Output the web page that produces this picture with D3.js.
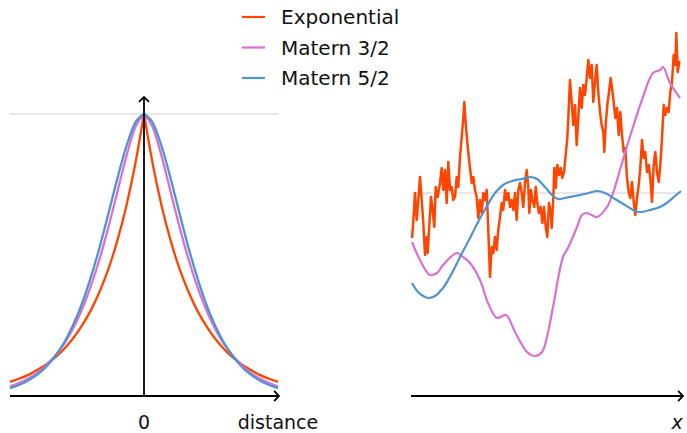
<!DOCTYPE html>
<html>
<head>
<meta charset="utf-8">
<script src="https://cdn.jsdelivr.net/npm/d3@7"></script>
<style>
body { margin: 0; background: #fff; }
text { font-family: "DejaVu Sans", sans-serif; fill: #111; }
</style>
</head>
<body>
<div id="chart"></div>
<script>
// kernels (distance in lengthscales)
var dist = [-3,-2.8,-2.6,-2.4,-2.2,-2,-1.8,-1.6,-1.4,-1.2,-1,-0.8,-0.6,-0.4,-0.2,0,
            0.2,0.4,0.6,0.8,1,1.2,1.4,1.6,1.8,2,2.2,2.4,2.6,2.8,3];
var kExp = [0.050,0.061,0.074,0.091,0.111,0.135,0.165,0.202,0.247,0.301,0.368,0.449,0.549,0.670,0.819,1,
            0.819,0.670,0.549,0.449,0.368,0.301,0.247,0.202,0.165,0.135,0.111,0.091,0.074,0.061,0.050];
var kM32 = [0.034,0.046,0.061,0.081,0.107,0.140,0.182,0.236,0.303,0.385,0.483,0.597,0.721,0.847,0.952,1,
            0.952,0.847,0.721,0.597,0.483,0.385,0.303,0.236,0.182,0.140,0.107,0.081,0.061,0.046,0.034];
var kM52 = [0.028,0.039,0.054,0.075,0.102,0.139,0.186,0.247,0.323,0.416,0.524,0.645,0.769,0.883,0.968,1,
            0.968,0.883,0.769,0.645,0.524,0.416,0.323,0.247,0.186,0.139,0.102,0.075,0.054,0.039,0.028];

// sample paths
var sExpX = [0,1.3,3,4.7,6.3,8,9.7,11.3,13,14.7,15.7,17,19,20.3,22.3,23.7,25.7,28,29.7,31.3,33,34.7,36.3,38,39.7,41.3,43,44.7,46.3,48,49.7,51.3,52.3,53.7,55.7,58,59.7,61.3,63,64.7,66.3,
  68,69.7,71.3,73,74.7,76.3,78,79.7,81.3,83,84.7,86.3,88,89.7,91.3,93,94.7,96.3,98,99.7,101.3,103,104.7,106.3,108,109.7,111.3,113,114.7,116.3,117.3,119,120.3,122.3,123.7,125.3,127,128.7,130.3,132,133.7,135.3,
  137,138.7,139.7,141.3,142.3,143.7,145.3,147,148.7,150.3,152,153.7,155.3,156.3,158,159.7,161.3,163,164.7,166.3,168,169.7,171.3,173,174.7,176.3,178,179.7,181.3,183,184.7,186.3,188,189.7,191.3,192.3,193.7,195.3,197,198.7,
  200,201.7,203.3,205,206.7,208.3,210,211.7,213.3,215,216.7,218.3,220,221.7,223.3,225,226.7,228.3,230,231.7,233.3,235,236.7,238.3,240,241.7,243.3,245,246.7,248.3,250,251.7,253.3,255,256.7,258.3,260,261.7,263.3,264.3,265.7,267.3,268.3];
var sExpY = [-0.90,-0.57,0.00,-0.54,-0.14,0.32,-0.14,-0.60,-1.24,-0.88,-1.20,-0.74,-0.08,-0.28,-0.68,0.12,-0.08,0.20,0.50,0.06,0.46,-0.20,0.62,0.06,0.12,-0.14,-0.08,0.32,0.12,0.72,1.12,1.50,1.82,1.40,0.92,0.50,0.20,0.32,0.06,-0.08,-0.50,
  -0.14,-0.40,0.00,-0.14,0.06,-0.74,-1.68,-1.08,-1.20,-0.88,-1.14,-0.74,-0.48,-0.20,-0.34,0.06,-0.14,0.00,-0.28,-0.14,-0.34,0.00,-0.54,0.06,0.20,0.00,-0.28,0.20,0.46,0.12,-0.40,0.06,-0.14,-0.28,0.12,-0.20,-0.40,-0.28,-0.60,-0.28,-0.68,-0.88,
  -0.20,-0.38,-0.70,-0.10,0.50,0.10,0.56,0.36,0.50,0.30,0.42,0.76,1.10,1.50,2.26,1.82,1.36,1.76,0.96,1.50,2.10,1.70,2.16,1.96,2.30,2.66,2.30,2.56,1.82,2.22,2.56,2.02,1.62,1.36,1.22,0.82,1.36,1.76,2.02,2.30,
  2.10,1.82,1.50,1.70,1.16,1.62,1.16,0.82,0.90,0.30,0.02,-0.10,0.22,-0.18,-0.44,-0.10,0.16,0.50,1.06,0.70,0.82,0.42,0.56,0.30,-0.18,0.56,0.82,0.42,0.22,0.56,1.10,1.76,1.56,1.70,1.62,2.02,2.22,2.76,2.56,3.20,2.42,2.62,2.62];

var sM32X = [0,8,18,25,31,45,51,58,68,76,85,94,103,115,123,130,135,141,151,156,165,170,175,185,195,201,210,221,231,241,248,251,258,268];
var sM32Y = [-0.98,-1.34,-1.64,-1.60,-1.44,-1.20,-1.28,-1.40,-1.74,-2.20,-2.50,-2.44,-2.78,-3.18,-3.26,-3.18,-2.88,-2.28,-1.28,-1.10,-0.68,-0.44,-0.40,-0.48,-0.28,0.00,0.60,1.32,1.92,2.40,2.46,2.52,2.20,1.90];

var sM52X = [0,6,13,17,23,31,40,48,58,66,75,83,91,100,110,118,125,133,140,146,153,163,173,185,193,203,213,223,228,238,248,256,263,269];
var sM52Y = [-1.80,-1.98,-2.08,-2.10,-2.06,-1.90,-1.60,-1.28,-0.90,-0.58,-0.26,0.00,0.16,0.24,0.28,0.32,0.28,0.12,-0.04,-0.12,-0.10,-0.06,-0.02,0.04,0.00,-0.12,-0.24,-0.36,-0.38,-0.34,-0.28,-0.18,-0.06,0.04];

var names  = ["Exponential", "Matern 3/2", "Matern 5/2"];
var colors = ["#ff4500", "#da70d6", "#4f94d0"];

var width = 687, height = 433;

var svg = d3.select("#chart").append("svg")
  .attr("width", width)
  .attr("height", height);

// ---- left panel: kernels ----
var xL = d3.scaleLinear().domain([-3, 3]).range([10, 278]);
var yL = d3.scaleLinear().domain([0, 1]).range([396, 114]);

function arrow(g, x1, y1, x2, y2) {
  g.append("line")
    .attr("x1", x1).attr("y1", y1).attr("x2", x2).attr("y2", y2)
    .attr("stroke", "#000").attr("stroke-width", 1.8);
  var a = Math.atan2(y2 - y1, x2 - x1), s = 7;
  g.append("path")
    .attr("d", "M" + (x2 - s * Math.cos(a - 0.8)) + "," + (y2 - s * Math.sin(a - 0.8)) +
               "L" + x2 + "," + y2 +
               "L" + (x2 - s * Math.cos(a + 0.8)) + "," + (y2 - s * Math.sin(a + 0.8)))
    .attr("fill", "none").attr("stroke", "#000").attr("stroke-width", 1.8);
}

var left = svg.append("g");

left.append("line")
  .attr("x1", xL(-3)).attr("x2", xL(3))
  .attr("y1", yL(1)).attr("y2", yL(1))
  .attr("stroke", "#cfcfcf").attr("stroke-width", 1.2);

var kLine = d3.line()
  .x(function(d) { return xL(d[0]); })
  .y(function(d) { return yL(d[1]); })
  .curve(d3.curveMonotoneX);

var kernels = [kExp, kM32, kM52];
kernels.forEach(function(k, i) {
  var pts = dist.map(function(d, j) { return [d, k[j]]; });
  // split at zero so the exponential keeps its cusp
  var halves = [pts.filter(function(p) { return p[0] <= 0; }),
                pts.filter(function(p) { return p[0] >= 0; })];
  halves.forEach(function(h) {
    left.append("path")
      .attr("d", kLine(h))
      .attr("fill", "none")
      .attr("stroke", colors[i])
      .attr("stroke-width", 2.3);
  });
});

arrow(left, xL(-3), yL(0), xL(3) + 1, yL(0));
arrow(left, xL(0), yL(0), xL(0), 97);

left.append("text")
  .attr("x", xL(0)).attr("y", 429)
  .attr("text-anchor", "middle")
  .style("font-size", "19px")
  .text("0");

left.append("text")
  .attr("x", 278).attr("y", 429)
  .attr("text-anchor", "middle")
  .style("font-size", "19px")
  .text("distance");

// ---- right panel: samples ----
var xR = d3.scaleLinear().domain([0, 269]).range([412, 681]);
var yR = d3.scaleLinear().domain([-4, 4]).range([393, -7]);

var right = svg.append("g");

right.append("line")
  .attr("x1", xR(0)).attr("x2", xR(269))
  .attr("y1", yR(0)).attr("y2", yR(0))
  .attr("stroke", "#cfcfcf").attr("stroke-width", 1.2);

var sLine = d3.line()
  .x(function(d) { return xR(d[0]); })
  .y(function(d) { return yR(d[1]); });

var samples = [
  {xs: sExpX, ys: sExpY, curve: d3.curveLinear, w: 2.5},
  {xs: sM32X, ys: sM32Y, curve: d3.curveCatmullRom, w: 2.2},
  {xs: sM52X, ys: sM52Y, curve: d3.curveCatmullRom, w: 2.2}
];

samples.forEach(function(s, i) {
  right.append("path")
    .attr("d", sLine.curve(s.curve)(s.xs.map(function(x, j) { return [x, s.ys[j]]; })))
    .attr("fill", "none")
    .attr("stroke", colors[i])
    .attr("stroke-width", s.w)
    .attr("stroke-linejoin", "round");
});

arrow(right, 411, 396, 683, 396);

right.append("text")
  .attr("x", 677).attr("y", 429)
  .attr("text-anchor", "middle")
  .style("font-size", "19px")
  .style("font-style", "italic")
  .text("x");

// ---- legend ----
var legend = svg.selectAll(".legend")
  .data(names)
  .enter().append("g")
  .attr("class", "legend")
  .attr("transform", function(d, i) { return "translate(242," + (17 + i * 30.5) + ")"; });

legend.append("line")
  .attr("x1", 0).attr("x2", 23)
  .attr("stroke", function(d, i) { return colors[i]; })
  .attr("stroke-width", 2.2);

legend.append("text")
  .attr("x", 39)
  .attr("y", 7)
  .style("font-size", "20px")
  .text(function(d) { return d; });
</script>
</body>
</html>
